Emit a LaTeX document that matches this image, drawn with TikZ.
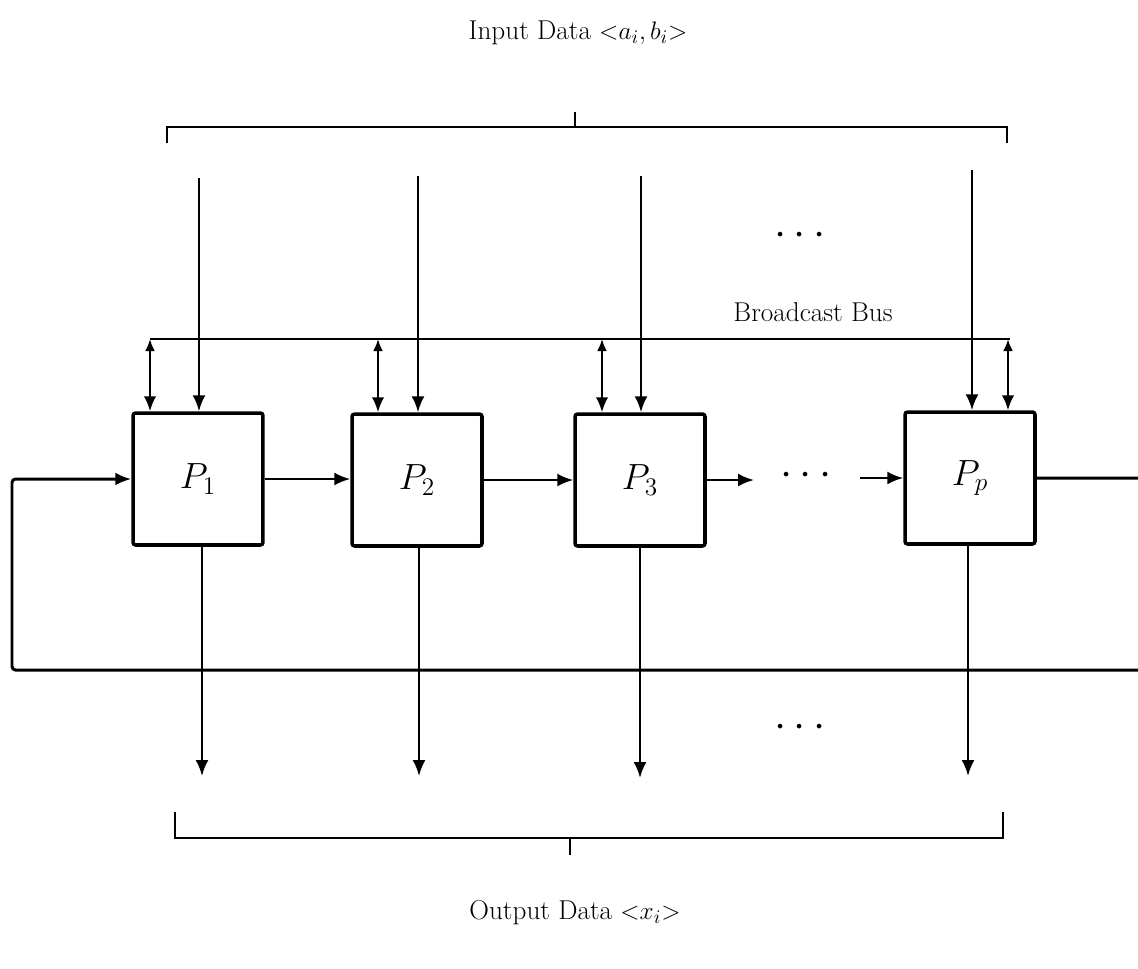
\documentclass[tikz,border=0pt]{standalone}
\usetikzlibrary{arrows.meta}
\begin{document}
\begin{tikzpicture}[x=0.02cm,y=-0.02cm,
  box/.style={draw, line width=2pt, rounded corners=1.5pt, minimum width=2.6cm, minimum height=2.64cm, inner sep=0pt, font=\fontsize{20}{24}\selectfont},
  conn/.style={line width=1.35pt, -{Latex[length=3.2mm,width=2.6mm]}},
  bid/.style={line width=1.35pt, {Latex[length=2.4mm,width=2mm]}-{Latex[length=3mm,width=2.5mm]}},
  wire/.style={line width=1.2pt},
  fb/.style={line width=1.7pt, rounded corners=2pt, -{Latex[length=3.2mm,width=2.6mm]}},
  lbl/.style={font=\fontsize{15.5}{18}\selectfont, inner sep=0pt},
  dotslbl/.style={font=\fontsize{24}{28}\selectfont, inner sep=0pt}]
\useasboundingbox (0,0) rectangle (1138,968);
\clip (0,0) rectangle (1138,968);

% processors
\node[box] (P1) at (198,479) {$P_1$};
\node[box] (P2) at (417,480) {$P_2$};
\node[box] (P3) at (640,480) {$P_3$};
\node[box] (Pp) at (970,478) {$P_p$};

% labels
\node[lbl] (inlbl) at (578,33) {Input Data ${<}a_i,b_i{>}$};
\node[lbl] (outlbl) at (575,913) {Output Data ${<}x_i{>}$};
\node[lbl] (buslbl) at (813,312) {Broadcast Bus};
\node[dotslbl] (dotsIn) at (800,236) {$\cdots$};
\node[dotslbl] (dotsMid) at (806,476) {$\cdots$};
\node[dotslbl] (dotsOut) at (800,728) {$\cdots$};

% top bracket
\coordinate (tbL) at (167,143);
\coordinate (tbR) at (1007,143);
\coordinate (tbT) at (575,112);
\draw[wire] (tbL) -- (167,127) -- (1007,127) -- (tbR);
\draw[wire] (tbT) -- (575,127);

% bottom bracket
\coordinate (bbL) at (175,812);
\coordinate (bbR) at (1003,812);
\coordinate (bbT) at (570,855);
\draw[wire] (bbL) -- (175,838) -- (1003,838) -- (bbR);
\draw[wire] (bbT) -- (570,838);

% input arrows
\coordinate (i1) at (199,178);
\coordinate (i2) at (418,176);
\coordinate (i3) at (641,176);
\coordinate (i4) at (972,170);
\draw[conn] (i1) -- (i1 |- P1.north);
\draw[conn] (i2) -- (i2 |- P2.north);
\draw[conn] (i3) -- (i3 |- P3.north);
\draw[conn] (i4) -- (i4 |- Pp.north);

% broadcast bus
\coordinate (busL) at (150,339);
\coordinate (busR) at (1010,339);
\draw[wire] (busL) -- (busR);
\coordinate (b1) at (150,339);
\coordinate (b2) at (378,339);
\coordinate (b3) at (602,339);
\coordinate (b4) at (1008,339);
\draw[bid] (b1) -- (b1 |- P1.north);
\draw[bid] (b2) -- (b2 |- P2.north);
\draw[bid] (b3) -- (b3 |- P3.north);
\draw[bid] (b4) -- (b4 |- Pp.north);

% chain
\draw[conn] (P1.east) -- (P1.east -| P2.west);
\draw[conn] (P2.east) -- (P3.west);
\coordinate (c1) at (754,480);
\coordinate (c2) at (860,478);
\draw[conn] (P3.east) -- (c1);
\draw[conn] (c2) -- (Pp.west);

% feedback loop
\coordinate (fR1) at (1165,478);
\coordinate (fR2) at (1165,670);
\coordinate (fL1) at (12,670);
\coordinate (fL2) at (12,479);
\draw[fb] (Pp.east) -- (fR1) -- (fR2) -- (fL1) -- (fL2) -- (P1.west);

% output arrows
\coordinate (o1) at (202,776);
\coordinate (o2) at (419,776);
\coordinate (o3) at (640,778);
\coordinate (o4) at (968,776);
\draw[conn] (o1 |- P1.south) -- (o1);
\draw[conn] (o2 |- P2.south) -- (o2);
\draw[conn] (o3 |- P3.south) -- (o3);
\draw[conn] (o4 |- Pp.south) -- (o4);
\end{tikzpicture}
\end{document}
